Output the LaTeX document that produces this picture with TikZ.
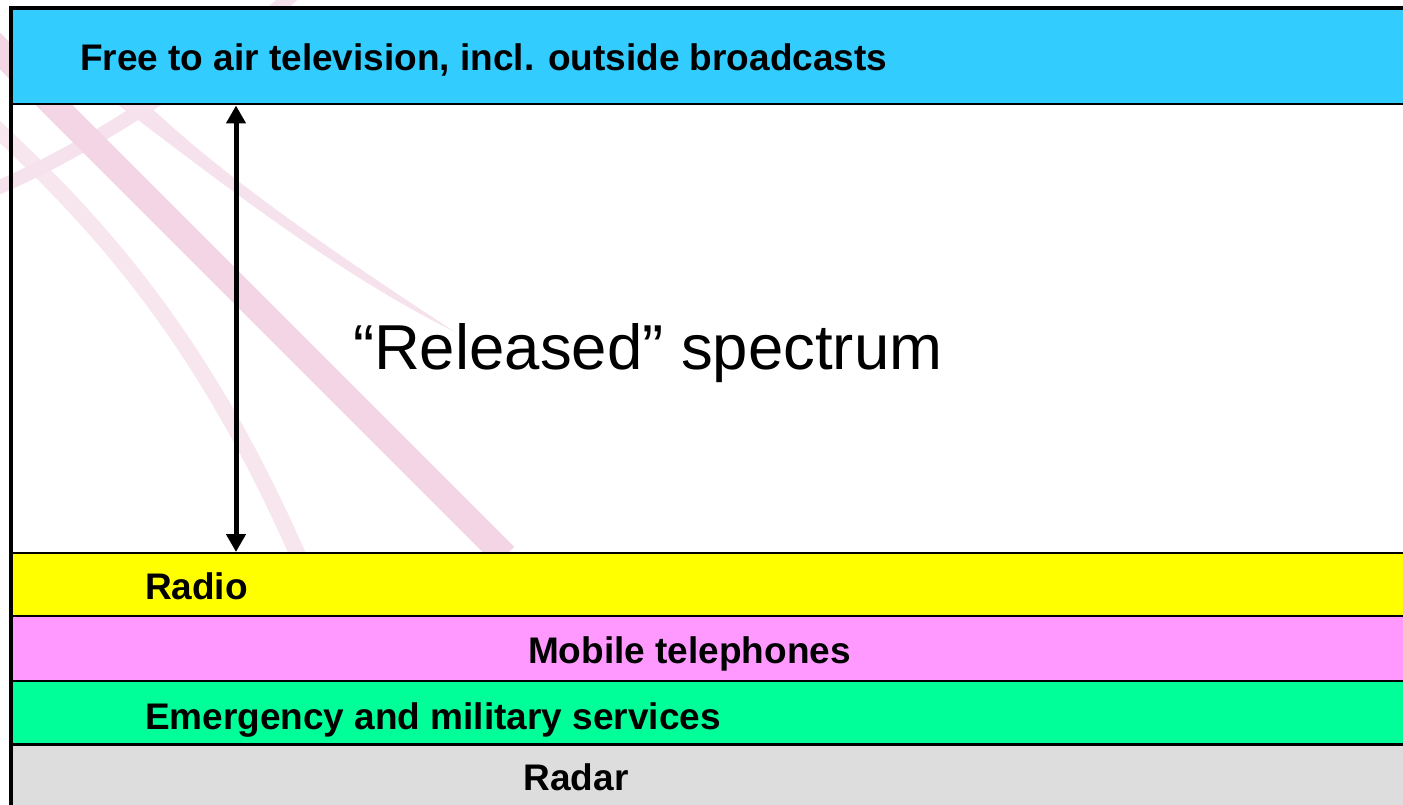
\documentclass[tikz,border=0pt]{standalone}
\usepackage{fontspec}
\setmainfont{Liberation Sans}
\usetikzlibrary{arrows.meta}
\definecolor{tvcyan}{RGB}{51,204,255}
\definecolor{radioyellow}{RGB}{255,255,0}
\definecolor{mobpink}{RGB}{255,153,255}
\definecolor{emgreen}{RGB}{0,255,153}
\definecolor{radargray}{RGB}{221,221,221}
\definecolor{ribA}{RGB}{243,213,229}
\definecolor{ribB}{RGB}{246,226,236}
\definecolor{ribC}{RGB}{247,230,238}
\tikzset{
  band/.style={draw=black, line width=2.2pt},
  lbl/.style={inner sep=0pt, outer sep=0pt, font=\fontsize{37}{40}\selectfont\bfseries},
  biglbl/.style={inner sep=0pt, outer sep=0pt, font=\fontsize{63.5}{70}\selectfont},
  frameline/.style={line width=4.5pt, line cap=rect},
  ribbon/.style={line cap=butt}
}
\begin{document}
\begin{tikzpicture}[x=1pt,y=-1pt]
\useasboundingbox (0,0) rectangle (1403,805);
\fill[white] (0,0) rectangle (1403,805);
% decorative ribbons
\draw[ribbon, ribC, line width=16pt] (-15,118) .. controls (90,215) and (200,330) .. (300,560);
\draw[ribbon, ribB, line width=14pt] (-20,195) .. controls (70,160) and (200,80) .. (300,-12);
\draw[ribbon, ribA, line width=26pt] (-60,-9) -- (505,556);
\fill[ribB] (105,95) .. controls (205,170) and (330,270) .. (455,332)
  .. controls (330,250) and (205,165) .. (125,82) -- cycle;
% bands
\fill[tvcyan] (11,8) rectangle (1403,104);
\fill[radioyellow] (11,553) rectangle (1403,616);
\fill[mobpink] (11,616) rectangle (1403,681);
\fill[emgreen] (11,681) rectangle (1403,744.5);
\fill[radargray] (11,744.5) rectangle (1403,805);
\draw[band] (11,104) -- (1403,104);
\draw[band] (11,553) -- (1403,553);
\draw[band] (11,616) -- (1403,616);
\draw[band] (11,681) -- (1403,681);
\draw[band] (11,744.5) -- (1403,744.5);
% frame
\draw[frameline] (11,808) -- (11,8) -- (1406,8);
% labels
\node[lbl, anchor=base west] (tv) at (80,70.7) {Free to air television, incl. outside broadcasts};
\node[lbl, anchor=base west] (radio) at (145,599) {Radio};
\node[lbl, anchor=base] (mobile) at (689.5,663.3) {Mobile telephones};
\node[lbl, anchor=base west] (emerg) at (145,729) {Emergency and military services};
\node[lbl, anchor=base] (radar) at (576,790) {Radar};
\node[biglbl, anchor=base west] (released) at (353,369) {“Released” spectrum};
% arrow
\coordinate (atop) at (236,105.5);
\coordinate (abot) at (236,552);
\draw[line width=5pt, {Triangle[width=19pt,length=18pt]}-{Triangle[width=19pt,length=18pt]}] (atop) -- (abot);
\end{tikzpicture}
\end{document}
